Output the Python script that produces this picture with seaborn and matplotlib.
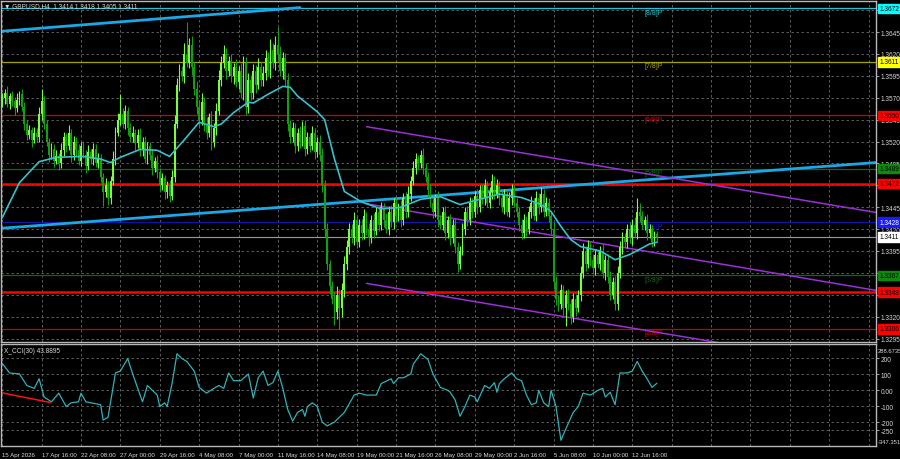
import numpy as np
import pandas as pd
import seaborn as sns
import matplotlib.pyplot as plt

# GBPUSD H4 closes, in pips above 1.3000
first_open = 565
closes = [
    570, 575, 563, 572, 566, 558, 568, 574, 560, 540,
    528, 533, 522, 530, 525, 552, 566, 540, 520, 505,
    512, 498, 503, 495, 510, 525, 515, 530, 505, 520,
    510, 498, 515, 505, 492, 508, 500, 512, 496, 500,
    480, 462, 470, 455, 475, 500, 530, 545, 552, 540,
    555, 535, 525, 530, 518, 528, 510, 520, 500, 515,
    505, 490, 498, 485, 470, 478, 462, 470, 458, 480,
    540, 585, 600, 595, 620, 610, 630, 605, 580, 560,
    545, 565, 540, 530, 548, 520, 535, 555, 590, 610,
    620, 600, 612, 595, 605, 588, 600, 575, 610, 560,
    590, 575, 600, 585, 605, 590, 598, 615, 600, 625,
    610, 630, 620, 600, 615, 590, 540, 525, 535, 515,
    530, 520, 538, 512, 525, 515, 530, 508, 520, 505,
    470, 420, 380, 355, 340, 325, 345, 330, 350, 380,
    400, 420, 410, 430, 405, 425, 415, 435, 420, 410,
    430, 418, 440, 425, 445, 430, 420, 440, 428, 450,
    435, 445, 430, 455, 440, 460, 475, 490, 500, 495,
    505, 490, 480, 465, 450, 440, 455, 430, 425, 440,
    415, 430, 410, 425, 400, 380, 395, 420, 440, 430,
    450, 440, 458, 445, 465, 455, 470, 450, 462, 475,
    460, 470, 455, 445, 460, 440, 455, 465, 450, 440,
    425, 415, 430, 420, 440, 450, 435, 455, 445, 460,
    440, 450, 435, 420, 360, 340, 335, 350, 330, 345,
    335, 320, 340, 330, 345, 370, 395, 380, 400, 385,
    375, 390, 380, 395, 370, 385, 365, 345, 360, 335,
    370, 400, 410, 405, 420, 410, 425, 415, 440, 435,
    425, 430, 415, 420, 405, 414, 411]
wick_up = [
    6, 5, 8, 4, 6, 5, 7, 4, 6, 5,
    5, 6, 4, 7, 5, 8, 14, 6, 5, 4,
    6, 5, 7, 4, 8, 6, 5, 9, 4, 6,
    5, 7, 4, 6, 5, 8, 4, 6, 5, 7,
    6, 4, 8, 5, 6, 9, 7, 8, 22, 6,
    7, 5, 6, 8, 4, 6, 7, 5, 6, 4,
    5, 6, 4, 7, 5, 6, 4, 5, 6, 8,
    10, 8, 9, 6, 12, 36, 8, 10, 6, 9,
    7, 10, 6, 8, 5, 7, 6, 9, 12, 8,
    10, 7, 6, 8, 5, 9, 6, 10, 8, 7,
    8, 6, 9, 7, 10, 6, 8, 9, 7, 12,
    8, 10, 21, 9, 7, 6, 8, 5, 7, 6,
    6, 8, 5, 7, 6, 5, 8, 6, 5, 7,
    8, 6, 7, 5, 6, 8, 10, 6, 8, 9,
    8, 7, 6, 9, 5, 7, 6, 8, 5, 7,
    6, 8, 5, 7, 6, 5, 8, 6, 7, 5,
    6, 5, 8, 6, 7, 9, 6, 8, 7, 5,
    5, 8, 6, 5, 7, 6, 5, 8, 6, 5,
    6, 5, 7, 6, 8, 5, 6, 7, 5, 6,
    7, 5, 6, 8, 5, 6, 7, 5, 6, 8,
    6, 7, 5, 8, 6, 5, 7, 6, 5, 6,
    5, 6, 7, 5, 6, 8, 5, 9, 6, 8,
    6, 7, 5, 6, 8, 6, 5, 7, 6, 5,
    6, 5, 7, 6, 5, 8, 9, 6, 7, 5,
    6, 7, 5, 6, 8, 5, 6, 7, 5, 6,
    8, 6, 7, 5, 6, 8, 6, 9, 16, 10,
    6, 5, 7, 6, 5, 4, 4]
wick_dn = [
    5, 7, 4, 6, 5, 8, 4, 6, 5, 7,
    6, 5, 8, 4, 6, 5, 7, 6, 5, 8,
    5, 7, 4, 8, 5, 6, 7, 5, 8, 6,
    7, 5, 6, 4, 8, 5, 6, 7, 5, 6,
    6, 16, 5, 8, 6, 5, 7, 4, 6, 5,
    6, 7, 5, 6, 8, 5, 6, 7, 5, 6,
    6, 8, 5, 7, 6, 5, 8, 6, 7, 5,
    6, 5, 7, 6, 8, 5, 6, 9, 7, 8,
    9, 6, 8, 7, 5, 10, 6, 8, 5, 7,
    6, 8, 5, 7, 9, 6, 8, 5, 7, 10,
    7, 8, 6, 9, 5, 7, 6, 8, 5, 7,
    6, 8, 7, 5, 9, 6, 8, 7, 6, 8,
    6, 7, 5, 8, 6, 7, 5, 8, 6, 7,
    8, 10, 7, 9, 6, 15, 8, 24, 10, 8,
    7, 9, 6, 8, 7, 5, 8, 6, 7, 9,
    6, 8, 5, 7, 6, 8, 5, 7, 6, 8,
    7, 6, 8, 5, 7, 6, 8, 5, 7, 6,
    5, 7, 6, 8, 5, 7, 6, 8, 5, 6,
    7, 5, 8, 6, 7, 9, 6, 5, 7, 6,
    5, 7, 6, 8, 5, 6, 7, 5, 6, 8,
    6, 5, 7, 6, 8, 5, 6, 7, 5, 6,
    7, 6, 5, 8, 6, 7, 5, 6, 8, 5,
    6, 5, 7, 6, 8, 7, 9, 6, 8, 21,
    7, 8, 6, 9, 5, 7, 6, 8, 5, 7,
    6, 8, 5, 7, 6, 8, 7, 6, 5, 7,
    7, 6, 8, 5, 7, 6, 8, 5, 6, 7,
    5, 6, 7, 5, 6, 4, 6]

# moving average (bar index, pips above 1.3000)
ma_bar = [0, 7, 15, 22, 33, 40, 44, 48, 56, 63, 68, 74, 80, 86, 89, 94, 100, 102,
          108, 114, 117, 120, 128, 131, 135, 139, 146, 154, 162, 170, 178, 186,
          194, 202, 211, 219, 223, 227, 231, 235, 243, 249, 255, 263, 266]
ma_val = [433, 473, 497, 502, 503, 500, 496, 502, 511, 510, 503, 522, 542, 537, 540,
          553, 565, 564, 574, 583, 582, 572, 554, 545, 500, 463, 451, 443, 445, 454,
          457, 448, 454, 460, 456, 448, 440, 423, 408, 400, 395, 385, 391, 403, 405]

# CCI(30)
cci_bar = [0, 3, 7, 10, 13, 15, 17, 20, 23, 26, 28, 31, 32, 34, 40, 41, 43, 46, 48,
           51, 53, 57, 59, 63, 64, 66, 67, 69, 71, 73, 75, 78, 80, 83, 86, 88, 90,
           92, 94, 97, 100, 102, 104, 106, 108, 110, 112, 114, 116, 118, 120, 122,
           123, 124, 126, 128, 130, 132, 135, 139, 143, 145, 148, 152, 154, 158,
           159, 161, 163, 166, 167, 170, 173, 175, 178, 181, 182, 184, 186, 188,
           190, 192, 193, 196, 198, 200, 201, 202, 204, 207, 209, 211, 213, 215,
           217, 218, 220, 222, 223, 225, 227, 229, 232, 234, 236, 239, 242, 244,
           245, 247, 249, 251, 254, 256, 258, 260, 262, 264, 266]
cci_val = [168, 108, 102, 30, 12, 72, -42, -72, -18, -102, -78, -72, -18, -72, -90,
           -186, -168, 108, 120, 198, 102, -72, 30, -30, -102, -78, -102, 42, 228,
           198, 180, 120, 18, -18, 12, 30, 12, 108, 60, 60, 102, -48, 78, 120, 30,
           48, 120, 12, -120, -192, -138, -120, -162, -102, -78, -102, -198, -222,
           -198, -138, -30, -18, -30, -30, 42, 72, 42, 78, 78, 102, 162, 228, 192,
           102, 18, 0, -12, -60, -162, -102, -30, -42, -72, 30, 12, 48, -12, 42, 72,
           108, 72, 60, -30, -90, -78, 0, -78, -102, 0, -102, -312, -240, -138,
           -102, -18, -30, 0, 12, -42, -12, -90, 108, 108, 120, 180, 120, 72, 18, 44]
cci_div_bar = [0, 19.5]
cci_div_val = [-16, -76]

# Murrey levels and support/resistance
level_price = [1.3672, 1.3611, 1.3550, 1.3489, 1.3428, 1.3367, 1.3306]
level_name = ['[8/8]P', '[7/8]P', '[6/8]P', '[5/8]P', '[4/8]P', '[3/8]P', '[2/8]P']
level_color = ['#1cc6d6', '#a6a600', '#d00000', '#0a6e0a', '#1414a8', '#0a6e0a', '#d00000']
level_box = ['#00ffff', '#ffff00', '#ff0000', '#0c8a0c', '#1a1aff', '#0c8a0c', '#ff0000']
sr_price = [1.3472, 1.3348]
bid = 1.3411

# trend lines: (bar, pips) endpoints
trend_up = ([0, 121], [646, 673])
trend_low = ([0, 355], [421, 496])
chan_bar = [148, 355]
chan_top = [537, 439]
chan_mid = [449, 350]
chan_bot = [358, 260]

price_ticks = [1.3295, 1.3320, 1.3345, 1.3370, 1.3395, 1.3420, 1.3445, 1.3470,
               1.3495, 1.3520, 1.3545, 1.3570, 1.3595, 1.3620, 1.3645, 1.3670]
hidden_ticks = [1.3345, 1.3370, 1.3470, 1.3670]

date_labels = ['15 Apr 2026', '17 Apr 16:00', '22 Apr 08:00', '27 Apr 00:00', '29 Apr 16:00',
               '4 May 08:00', '7 May 00:00', '11 May 16:00', '14 May 08:00', '19 May 00:00',
               '21 May 16:00', '26 May 08:00', '29 May 00:00', '2 Jun 16:00', '5 Jun 08:00',
               '10 Jun 00:00', '12 Jun 16:00']


def px(v):
    return 1.3 + np.asarray(v, dtype=float) / 10000


sns.set_theme(style='dark', rc={'axes.facecolor': 'black', 'figure.facecolor': 'black'})
plt.rcParams['font.family'] = ['Liberation Sans', 'DejaVu Sans']

FS = 4.7
n = len(closes)
bars = np.arange(n)
c = px(closes)
o = np.concatenate([px([first_open]), c[:-1]])
hi = np.maximum(o, c) + np.asarray(wick_up) / 10000
lo = np.minimum(o, c) - np.asarray(wick_dn) / 10000
up = c >= o

fig = plt.figure(figsize=(9, 4.6), dpi=100, facecolor='black')
ax = fig.add_axes([0.0011, 0.2543, 0.9722, 0.7413])
axc = fig.add_axes([0.0011, 0.0283, 0.9722, 0.2217])

grid_kw = dict(color='#6a6a6a', linestyle=(0, (3, 3)), linewidth=0.6)
for a in (ax, axc):
    a.set_facecolor('black')
    for s in a.spines.values():
        s.set_color('#b8b8b8')
        s.set_linewidth(1)
    a.set_xlim(-0.5, 355)
    a.set_xticks(np.arange(0, 353, 16))
    a.grid(True, **grid_kw)
    a.set_axisbelow(True)
    a.yaxis.tick_right()
    a.tick_params(axis='y', colors='#b8b8b8', labelcolor='#d8d8d8', labelsize=FS,
                  length=2, width=0.6, pad=1.5)

# levels
for p, col in zip(level_price, level_color):
    ax.axhline(p, color=col, lw=0.9, zorder=1)
for p in sr_price:
    ax.axhline(p, color='#ff0000', lw=1.8, zorder=1)
ax.axhline(bid, color='#9a9a9a', lw=0.8, zorder=1)
for p, name, col in zip(level_price, level_name, level_color):
    ax.text(261, p - 0.00005, name, color=col, fontsize=5, va='top', ha='left', zorder=2)

# trend lines and channel
ax.plot(trend_up[0], px(trend_up[1]), color='#1aa8e6', lw=2, zorder=2)
ax.plot(trend_low[0], px(trend_low[1]), color='#1aa8e6', lw=2, zorder=2)
for line in (chan_top, chan_mid, chan_bot):
    ax.plot(chan_bar, px(line), color='#9b30d9', lw=1.1, zorder=2)

# candles
body_col = np.where(up, '#7cfc3c', '#12a012')
ax.vlines(bars, lo, hi, colors=body_col, lw=0.8, zorder=3)
ax.bar(bars, np.maximum(np.abs(c - o), 0.00004), bottom=np.minimum(o, c), width=0.75,
       color=body_col, linewidth=0, zorder=4)

sns.lineplot(x=ma_bar, y=px(ma_val), ax=ax, color='#38c0cc', lw=1.2,
             estimator=None, sort=False, zorder=5)

ax.set_ylim(1.32910, 1.36805)
ax.set_yticks(price_ticks)
ax.set_yticklabels(['' if t in hidden_ticks else f'{t:.4f}' for t in price_ticks])
ax.tick_params(axis='x', length=0, labelbottom=False)
ax.set_xlabel('')
ax.set_ylabel('')

ytr = ax.get_yaxis_transform()
box_text = {1.3411: ('#ffffff', 'black'), 1.3472: ('#ff0000', 'black'),
            1.3348: ('#ff0000', 'black')}
for p, col in zip(level_price, level_box):
    box_text[p] = (col, 'white' if col == '#1a1aff' else 'black')
for p, (fc, tc) in box_text.items():
    ax.text(1.0035, p, f'{p:.4f}', transform=ytr, fontsize=FS, color=tc, va='center',
            ha='left', clip_on=False, zorder=10,
            bbox=dict(boxstyle='square,pad=0.18', fc=fc, ec=fc))

# CCI panel
sns.lineplot(x=cci_bar, y=cci_val, ax=axc, color='#2fb3b8', lw=0.9, estimator=None, sort=False)
sns.lineplot(x=cci_div_bar, y=cci_div_val, ax=axc, color='#ff1010', lw=1.1, estimator=None)
axc.set_ylim(-347.351, 288.6735)
axc.set_yticks([200, 100, 0, -100, -200, -250])
axc.set_yticklabels(['200', '100', '0.00', '-100', '-200', '-250'])
axc.text(1.002, 0.96, '288.6735', transform=axc.transAxes, fontsize=4.2, color='#d8d8d8',
         va='top', ha='left', clip_on=False)
axc.text(1.002, 0.02, '-347.351', transform=axc.transAxes, fontsize=4.2, color='#d8d8d8',
         va='bottom', ha='left', clip_on=False)
axc.set_xlabel('')
axc.set_ylabel('')
xt = date_labels + [''] * (len(axc.get_xticks()) - len(date_labels))
axc.set_xticklabels(xt, ha='left')
axc.tick_params(axis='x', colors='#b8b8b8', labelcolor='#d8d8d8', labelsize=4.4,
                length=3, width=0.6, pad=1)
axc.text(0.004, 0.97, 'X_CCI(30) 43.8895', transform=axc.transAxes, fontsize=FS,
         color='#d8d8d8', va='top', ha='left')

fig.text(0.004, 0.993, '\u25bc GBPUSD,H4  1.3414 1.3418 1.3405 1.3411', fontsize=FS,
         color='#d8d8d8', va='top', ha='left')

fig.savefig('out.png', dpi=100, facecolor='black')
